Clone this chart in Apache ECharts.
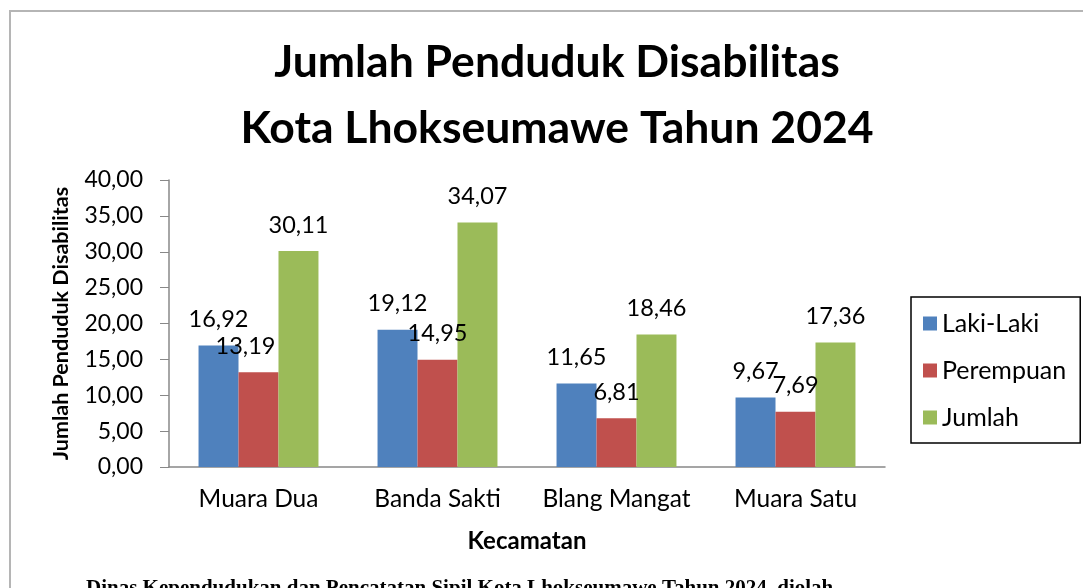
<!DOCTYPE html>
<html>
<head>
<meta charset="utf-8">
<script src="https://cdn.jsdelivr.net/npm/echarts@6/dist/echarts.min.js"></script>
<style>
  html, body { margin: 0; padding: 0; background: #fff; }
  #chart { width: 1083px; height: 588px; }
</style>
</head>
<body>
<div id="chart"></div>
<script>
// data
const kecamatan = ['Muara Dua', 'Banda Sakti', 'Blang Mangat', 'Muara Satu'];
const lakiLaki = [16.92, 19.12, 11.65, 9.67];
const perempuan = [13.19, 14.95, 6.81, 7.69];
const jumlah = [30.11, 34.07, 18.46, 17.36];

const FONT = 'Lato';
const fmt = v => v.toFixed(2).replace('.', ',');

const chart = echarts.init(document.getElementById('chart'));

const barLabel = {
  show: true,
  position: 'top',
  distance: 14,
  fontFamily: FONT,
  fontSize: 23.5,
  color: '#000',
  formatter: p => fmt(p.value)
};

const option = {
  backgroundColor: '#fff',
  animation: false,
  title: {
    text: 'Jumlah Penduduk Disabilitas\nKota Lhokseumawe Tahun 2024',
    left: 552,
    textAlign: 'center',
    top: 25,
    textStyle: {
      fontFamily: FONT,
      fontSize: 44.5,
      fontWeight: 'bold',
      color: '#000',
      lineHeight: 66
    }
  },
  legend: {
    orient: 'vertical',
    left: 911,
    top: 297,
    padding: [14, 14, 13, 12],
    itemGap: 22,
    itemWidth: 14,
    itemHeight: 14,
    borderColor: '#000',
    borderWidth: 1.5,
    icon: 'rect',
    textStyle: { fontFamily: FONT, fontSize: 25, color: '#000' },
    data: ['Laki-Laki', 'Perempuan', 'Jumlah']
  },
  grid: { left: 169, right: 198, top: 180, bottom: 121 },
  xAxis: {
    type: 'category',
    data: kecamatan,
    name: 'Kecamatan',
    nameLocation: 'middle',
    nameGap: 62,
    nameTextStyle: { fontFamily: FONT, fontSize: 24, fontWeight: 'bold', color: '#000' },
    axisLine: { lineStyle: { color: '#888', width: 1.5 } },
    axisTick: { show: false },
    axisLabel: { interval: 0, fontFamily: FONT, fontSize: 24.5, color: '#000', margin: 20 }
  },
  yAxis: {
    type: 'value',
    min: 0,
    max: 40,
    interval: 5,
    name: 'Jumlah Penduduk Disabilitas',
    nameLocation: 'middle',
    nameGap: 97,
    nameTextStyle: { fontFamily: FONT, fontSize: 21.5, fontWeight: 'bold', color: '#000' },
    axisLine: { show: true, lineStyle: { color: '#888', width: 1.5 } },
    axisTick: { show: true, length: 9, lineStyle: { color: '#888' } },
    axisLabel: { fontFamily: FONT, fontSize: 23, color: '#000', margin: 26, formatter: v => fmt(v) },
    splitLine: { show: false }
  },
  series: [
    {
      name: 'Laki-Laki',
      type: 'bar',
      barGap: '0%',
      barCategoryGap: '33%',
      itemStyle: { color: '#4F81BD' },
      label: barLabel,
      data: lakiLaki
    },
    {
      name: 'Perempuan',
      type: 'bar',
      itemStyle: { color: '#C0504D' },
      label: barLabel,
      data: perempuan.map((v, i) => i === 0 ? { value: v, label: { offset: [-13, 0] } } : v)
    },
    {
      name: 'Jumlah',
      type: 'bar',
      itemStyle: { color: '#9BBB59' },
      label: barLabel,
      data: jumlah
    }
  ],
  graphic: [
    {
      type: 'polyline',
      shape: { points: [[10, 600], [10, 11], [1090, 11]] },
      style: { stroke: '#b5b5b5', lineWidth: 2, fill: null },
      silent: true
    },
    {
      type: 'text',
      left: 86,
      top: 578,
      style: {
        text: 'Dinas Kependudukan dan Pencatatan Sipil Kota Lhokseumawe Tahun 2024, diolah',
        font: 'bold 21px "Liberation Serif"',
        fill: '#000'
      },
      silent: true
    }
  ]
};

chart.setOption(option);
</script>
</body>
</html>
